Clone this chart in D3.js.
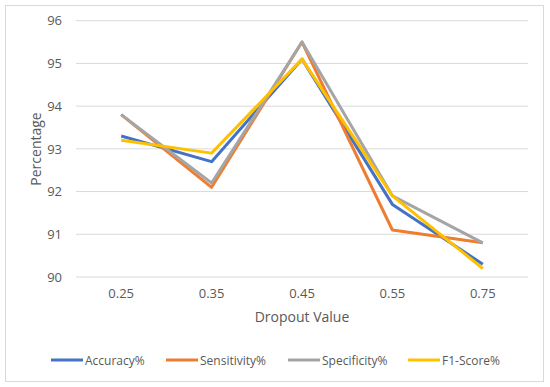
<!DOCTYPE html>
<html><head><meta charset="utf-8">
<script src="https://cdn.jsdelivr.net/npm/d3@7"></script>
<style>body{margin:0;background:#fff}svg{display:block}text{font-family:"Open Sans","Noto Sans",sans-serif;fill:#595959}</style>
</head><body><svg id="c" width="550" height="387"></svg>
<script>
const categories = ["0.25","0.35","0.45","0.55","0.75"];
const seriesNames = ["Accuracy%","Sensitivity%","Specificity%","F1-Score%"];
const accuracy = [93.3, 92.7, 95.1, 91.7, 90.3];
const sensitivity = [93.8, 92.1, 95.5, 91.1, 90.8];
const specificity = [93.8, 92.2, 95.5, 91.9, 90.8];
const f1score = [93.2, 92.9, 95.1, 91.9, 90.2];
const yTicks = [90, 91, 92, 93, 94, 95, 96];
const colors = ["#4472C4", "#ED7D31", "#A5A5A5", "#FFC000"];
const series = [accuracy, sensitivity, specificity, f1score];

const svg = d3.select("#c");
svg.append("rect").attr("x",5.5).attr("y",5.5).attr("width",538).attr("height",376)
  .attr("fill","#fff").attr("stroke","#d9d9d9");

const x = d3.scaleBand().domain(categories).range([76, 528]);
const y = d3.scaleLinear().domain([90, 96]).range([277, 20.7]);

const g = svg.append("g");
yTicks.forEach(t => {
  g.append("line").attr("x1",76).attr("x2",528).attr("y1",y(t)).attr("y2",y(t))
    .attr("stroke","#d9d9d9").attr("stroke-width",1);
});
const yAxis = svg.append("g").attr("transform","translate(76,0)")
  .call(d3.axisLeft(y).tickValues(yTicks).tickSize(0).tickPadding(14).tickFormat(d3.format("d")));
yAxis.select(".domain").remove();
yAxis.selectAll("text").style("font-size","13px").attr("fill","#595959");

const xAxis = svg.append("g").attr("transform","translate(0,277)")
  .call(d3.axisBottom(x).tickSize(0).tickPadding(12));
xAxis.select(".domain").remove();
xAxis.selectAll("text").style("font-size","13px").attr("fill","#595959");

svg.append("text").attr("x",302).attr("y",322).attr("text-anchor","middle")
  .style("font-size","14px").text("Dropout Value");
svg.append("text").attr("transform","translate(41,149) rotate(-90)").attr("text-anchor","middle")
  .style("font-size","14px").text("Percentage");

const line = d3.line().x((d,i)=>x(categories[i])+x.bandwidth()/2).y(d=>y(d));
series.forEach((s,k) => {
  svg.append("path").datum(s).attr("d",line).attr("fill","none")
    .attr("stroke",colors[k]).attr("stroke-width",3).attr("stroke-linejoin","round");
});

const legX = [51, 166, 288, 408];
seriesNames.forEach((n,k) => {
  svg.append("line").attr("x1",legX[k]).attr("x2",legX[k]+32).attr("y1",360).attr("y2",360)
    .attr("stroke",colors[k]).attr("stroke-width",3);
  svg.append("text").attr("x",legX[k]+34).attr("y",364.5).style("font-size","12px").text(n);
});
</script></body></html>
